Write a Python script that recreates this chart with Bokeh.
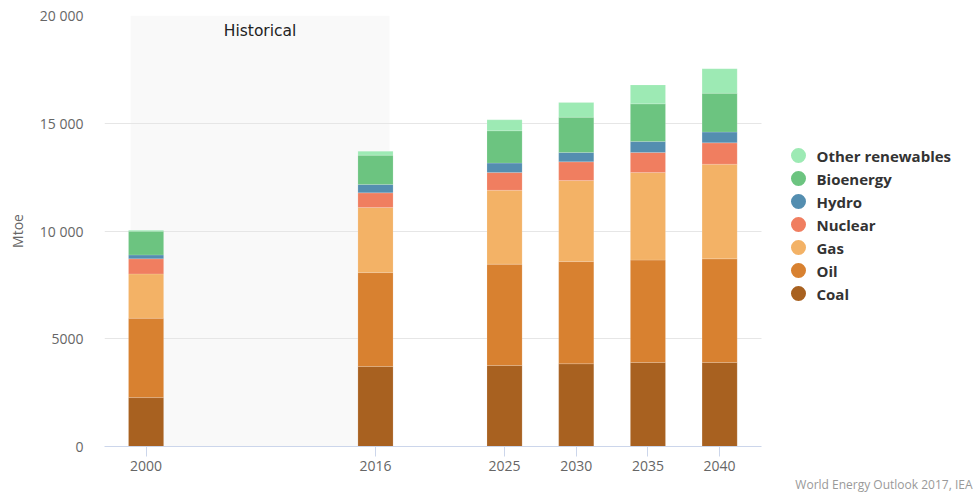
from bokeh.plotting import figure
from bokeh.models import ColumnDataSource, Range1d, FixedTicker, BoxAnnotation, Label, Title
from bokeh.embed import file_html
from bokeh.resources import INLINE
from bokeh.core.properties import value

# ---------------- data ----------------
years = [2000, 2016, 2025, 2030, 2035, 2040]
coal = [2270, 3710, 3760, 3840, 3900, 3900]
oil = [3680, 4360, 4700, 4740, 4750, 4810]
gas = [2060, 3020, 3430, 3760, 4060, 4390]
nuclear = [700, 680, 820, 870, 930, 990]
hydro = [180, 390, 440, 430, 510, 500]
bioenergy = [1100, 1360, 1500, 1640, 1750, 1800]
other_renewables = [50, 180, 510, 680, 880, 1140]

series = ["Coal", "Oil", "Gas", "Nuclear", "Hydro", "Bioenergy", "Other renewables"]
colors = ["#a86120", "#d88130", "#f3b266", "#f07e60", "#548eb0", "#6cc480", "#9deab4"]

y_ticks = [0, 5000, 10000, 15000, 20000]
y_tick_labels = ["0", "5000", "10 000", "15 000", "20 000"]
historical_span = [1998.92, 2016.98]
historical_text = "Historical"
credits_text = "World Energy Outlook 2017, IEA"

# ---------------- layout geometry ----------------
W, H = 973, 496
LEFT, RIGHT_PLOT, TOP, BOTTOM = 104, 761, 15, 446   # plot area in pixels
X0, X1 = 1997.1, 2042.92                              # visible year span of the plot area
Y0, Y1 = 0, 20000
px_per_x = (RIGHT_PLOT - LEFT) / (X1 - X0)
x_full_end = X0 + (W - LEFT) / px_per_x               # frame extends under the legend


def px_to_x(px):
    return X0 + (px - LEFT) / px_per_x


def py_to_y(py):
    return Y0 + (BOTTOM - py) / (BOTTOM - TOP) * (Y1 - Y0)


# ---------------- chart ----------------
src = ColumnDataSource(dict(year=years, Coal=coal, Oil=oil, Gas=gas, Nuclear=nuclear,
                            Hydro=hydro, Bioenergy=bioenergy,
                            **{"Other renewables": other_renewables}))

p = figure(width=W, height=H, x_range=Range1d(X0, x_full_end), y_range=Range1d(Y0, Y1),
           toolbar_location=None, output_backend="svg",
           min_border_left=LEFT, min_border_right=0, min_border_top=TOP,
           min_border_bottom=H - BOTTOM)
p.outline_line_color = None
p.background_fill_color = "white"
p.border_fill_color = "white"

band = BoxAnnotation(left=historical_span[0], right=historical_span[1],
                     fill_color="#f9f9f9", fill_alpha=1.0, line_color=None, level="image")
p.add_layout(band)

# horizontal grid limited to the plot area
p.xgrid.visible = False
try:
    p.ygrid.cross_bounds = (X0, X1)
    p.ygrid.grid_line_color = "#e6e6e6"
    p.ygrid.grid_line_width = 1
except Exception:
    p.ygrid.visible = False
    p.segment(x0=[X0] * len(y_ticks), x1=[X1] * len(y_ticks), y0=y_ticks, y1=y_ticks,
              line_color="#e6e6e6", line_width=1, level="underlay")

p.vbar_stack(series, x="year", width=2.45, source=src, fill_color=colors,
             line_color="white", line_alpha=0.15, line_width=1)

p.add_layout(Label(x=(historical_span[0] + historical_span[1]) / 2, y=py_to_y(30),
                   text=historical_text, text_align="center", text_baseline="middle",
                   text_font="DejaVu Sans", text_font_size="15.5px", text_color="#222222"))

# axes
p.xaxis.ticker = FixedTicker(ticks=years)
p.xaxis.bounds = (X0, X1)
p.xaxis.axis_line_color = "#ccd6eb"
p.xaxis.major_tick_line_color = "#ccd6eb"
p.xaxis.major_tick_out = 10
p.xaxis.major_tick_in = 0
p.xaxis.minor_tick_line_color = None
p.xaxis.major_label_standoff = 4
p.xaxis.major_label_text_font = "Open Sans"
p.xaxis.major_label_text_font_size = "14px"
p.xaxis.major_label_text_color = "#666666"

p.yaxis.ticker = FixedTicker(ticks=y_ticks)
p.yaxis.major_label_overrides = dict(zip(y_ticks, y_tick_labels))
p.yaxis.axis_line_color = None
p.yaxis.major_tick_line_color = None
p.yaxis.minor_tick_line_color = None
p.yaxis.major_tick_out = 0
p.yaxis.major_tick_in = 0
p.yaxis.major_label_standoff = 21
p.yaxis.major_label_text_font = "Open Sans"
p.yaxis.major_label_text_font_size = "14px"
p.yaxis.major_label_text_color = "#666666"
p.yaxis.axis_label = "Mtoe"
p.yaxis.axis_label_text_font = "Open Sans"
p.yaxis.axis_label_text_font_size = "14px"
p.yaxis.axis_label_text_font_style = "normal"
p.yaxis.axis_label_text_color = "#666666"
p.yaxis.axis_label_standoff = 10

# ---------------- legend (circles + bold labels) ----------------
leg_names = series[::-1]
leg_colors = colors[::-1]
leg_y = [py_to_y(155 + 23 * i) for i in range(len(leg_names))]
p.scatter(x=[px_to_x(798)] * len(leg_names), y=leg_y, marker="circle", size=15,
          fill_color=leg_colors, line_color=None)
p.text(x=[px_to_x(816)] * len(leg_names), y=leg_y, text=leg_names,
       text_font=value("Open Sans"), text_font_style="bold", text_font_size="15px",
       text_color="#333333", text_baseline="middle", text_align="left")

# ---------------- credits ----------------
credits = Title(text=credits_text, align="right", offset=1, standoff=0,
                text_font="Open Sans", text_font_size="12px", text_font_style="normal",
                text_color="#999999")
p.add_layout(credits, "below")

open("out.html", "w").write(file_html(p, INLINE))
